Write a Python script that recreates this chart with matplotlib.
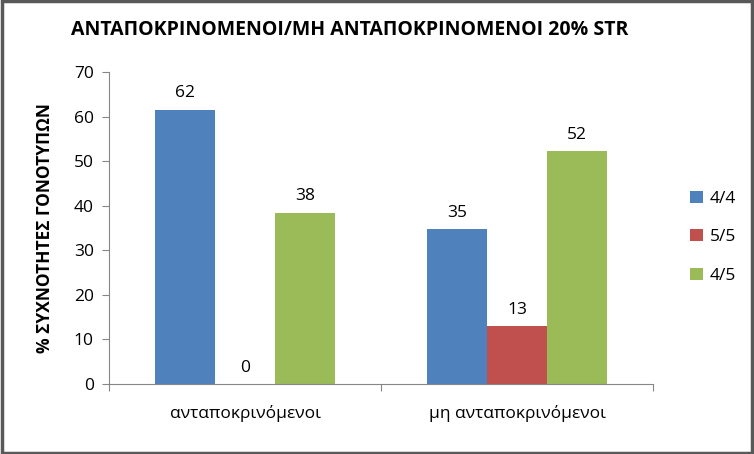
import matplotlib.pyplot as plt
import numpy as np
from matplotlib.patches import Rectangle

plt.rcParams["font.family"] = ["Open Sans", "DejaVu Sans"]

CATEGORIES = ['ανταποκρινόμενοι', 'μη ανταποκρινόμενοι']
SERIES = ['4/4', '5/5', '4/5']
VALUES_44 = [61.54, 34.78]
VALUES_55 = [0.0, 13.04]
VALUES_45 = [38.46, 52.17]
COLORS = ['#4F81BD', '#C0504D', '#9BBB59']
AXIS_COL = '#868686'
FS = 12.5

fig = plt.figure(figsize=(7.54, 4.54), dpi=100)
fig.patch.set_facecolor('white')
fig.add_artist(Rectangle((0.002, 0.003), 0.995, 0.994, transform=fig.transFigure,
                         fill=False, edgecolor='#595959', linewidth=2.5))

ax = fig.add_axes([0.1446, 0.1542, 0.7215, 0.6872])
xs = np.arange(len(CATEGORIES))
width = 0.22
for i, (name, vals) in enumerate(zip(SERIES, [VALUES_44, VALUES_55, VALUES_45])):
    bars = ax.bar(xs + (i - 1) * width, vals, width, color=COLORS[i], label=name)
    for b, v in zip(bars, vals):
        ax.annotate(f'{v:.0f}', (b.get_x() + b.get_width() / 2, v),
                    xytext=(0, 6), textcoords='offset points',
                    ha='center', va='bottom', fontsize=FS)

ax.set_xlim(-0.5, 1.5)
ax.set_ylim(0, 70)
ax.set_yticks(range(0, 71, 10))
ax.set_xticks([-0.5, 0.5, 1.5], minor=False)
ax.set_xticklabels([])
ax.set_xticks(xs, minor=True)
ax.set_xticklabels(CATEGORIES, minor=True, fontsize=FS)
ax.tick_params(axis='x', which='minor', length=0, pad=15)
ax.tick_params(axis='x', which='major', length=5, color=AXIS_COL, direction='out')
ax.tick_params(axis='y', length=5, color=AXIS_COL, direction='out', labelsize=FS, pad=6)
for s in ['top', 'right']:
    ax.spines[s].set_visible(False)
for s in ['left', 'bottom']:
    ax.spines[s].set_color(AXIS_COL)
ax.set_ylabel('% ΣΥΧΝΟΤΗΤΕΣ ΓΟΝΟΤΥΠΩΝ', fontsize=12.5, fontweight='bold', labelpad=14)

ax.legend(loc='center left', bbox_to_anchor=(1.04, 0.47), frameon=False,
          fontsize=FS, handlelength=0.7, handleheight=0.7, labelspacing=1.3, handletextpad=0.4)

fig.text(0.464, 0.935, 'ΑΝΤΑΠΟΚΡΙΝΟΜΕΝΟΙ/ΜΗ ΑΝΤΑΠΟΚΡΙΝΟΜΕΝΟΙ 20% STR',
         ha='center', va='center', fontsize=14, fontweight='bold')

fig.savefig('out.png', dpi=100)
